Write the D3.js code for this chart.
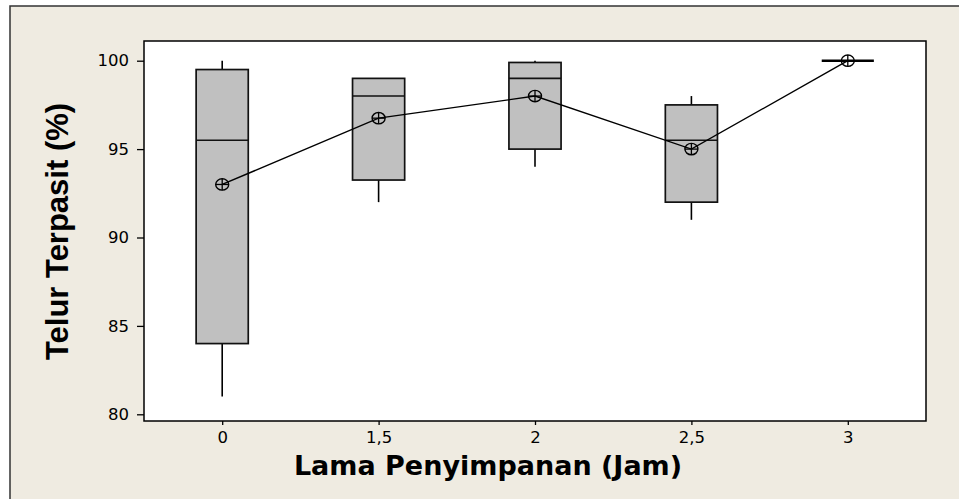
<!DOCTYPE html>
<html>
<head>
<meta charset="utf-8">
<script src="https://cdn.jsdelivr.net/npm/d3@7/dist/d3.min.js"></script>
<style>
  html, body { margin: 0; padding: 0; background: #ffffff; }
  svg { display: block; }
</style>
</head>
<body>
<svg id="chart" width="959" height="499"></svg>
<script>
// Data
const categories  = ["0", "1,5", "2", "2,5", "3"];
const whiskerLow  = [81, 92, 94, 91, 100];
const q1Values    = [84, 93.25, 95, 92, 100];
const medians     = [95.5, 98, 99, 95.5, 100];
const q3Values    = [99.5, 99, 99.9, 97.5, 100];
const whiskerHigh = [100, 99, 100, 98, 100];
const means       = [93, 96.75, 98, 95, 100];
const yTicks      = [80, 85, 90, 95, 100];

const svg = d3.select("#chart");
const W = 959, H = 499;
const frame = { left: 144, right: 926, top: 41, bottom: 421 };

// outer panel
svg.append("rect")
  .attr("x", 10).attr("y", 6).attr("width", W + 20).attr("height", H + 20)
  .attr("fill", "#efebe1").attr("stroke", "#333").attr("stroke-width", 1.5);

// plot area
svg.append("rect")
  .attr("x", frame.left).attr("y", frame.top)
  .attr("width", frame.right - frame.left).attr("height", frame.bottom - frame.top)
  .attr("fill", "#ffffff");

const x = d3.scalePoint().domain(categories)
  .range([frame.left, frame.right]).padding(0.5);
const y = d3.scaleLinear().domain([80, 100]).range([414.3, 60.7]);
const boxW = x.step() / 3;

const rows = categories.map((c, i) => ({
  c, lo: whiskerLow[i], q1: q1Values[i], med: medians[i],
  q3: q3Values[i], hi: whiskerHigh[i], mean: means[i]
}));

const g = svg.append("g");

// whiskers
rows.forEach(d => {
  if (d.lo < d.q1) g.append("line")
    .attr("x1", x(d.c)).attr("x2", x(d.c))
    .attr("y1", y(d.lo)).attr("y2", y(d.q1))
    .attr("stroke", "#000").attr("stroke-width", 1.6);
  if (d.hi > d.q3) g.append("line")
    .attr("x1", x(d.c)).attr("x2", x(d.c))
    .attr("y1", y(d.hi)).attr("y2", y(d.q3))
    .attr("stroke", "#000").attr("stroke-width", 1.6);
});

// boxes
rows.forEach(d => {
  if (d.q3 > d.q1) {
    g.append("rect")
      .attr("x", x(d.c) - boxW / 2).attr("y", y(d.q3))
      .attr("width", boxW).attr("height", y(d.q1) - y(d.q3))
      .attr("fill", "#c0c0c0").attr("stroke", "#111").attr("stroke-width", 1.7);
    g.append("line")
      .attr("x1", x(d.c) - boxW / 2).attr("x2", x(d.c) + boxW / 2)
      .attr("y1", y(d.med)).attr("y2", y(d.med))
      .attr("stroke", "#111").attr("stroke-width", 1.6);
  } else {
    g.append("line")
      .attr("x1", x(d.c) - boxW / 2).attr("x2", x(d.c) + boxW / 2)
      .attr("y1", y(d.med)).attr("y2", y(d.med))
      .attr("stroke", "#000").attr("stroke-width", 2.6);
  }
});

// mean connect line
const line = d3.line().x(d => x(d.c)).y(d => y(d.mean));
g.append("path").datum(rows).attr("d", line)
  .attr("fill", "none").attr("stroke", "#000").attr("stroke-width", 1.4);

// mean symbols
rows.forEach(d => {
  const cx = x(d.c), cy = y(d.mean);
  g.append("ellipse").attr("cx", cx).attr("cy", cy).attr("rx", 6.5).attr("ry", 5.7)
    .attr("fill", "none").attr("stroke", "#000").attr("stroke-width", 1.4);
  g.append("line").attr("x1", cx - 6.5).attr("x2", cx + 6.5).attr("y1", cy).attr("y2", cy)
    .attr("stroke", "#000").attr("stroke-width", 1.3);
  g.append("line").attr("x1", cx).attr("x2", cx).attr("y1", cy - 5.7).attr("y2", cy + 5.7)
    .attr("stroke", "#000").attr("stroke-width", 1.3);
});

// frame
svg.append("rect")
  .attr("x", frame.left).attr("y", frame.top)
  .attr("width", frame.right - frame.left).attr("height", frame.bottom - frame.top)
  .attr("fill", "none").attr("stroke", "#000").attr("stroke-width", 1.5);

// axes
const yAxis = d3.axisLeft(y).tickValues(yTicks).tickSize(7).tickPadding(8).tickFormat(d3.format("d"));
const yg = svg.append("g").attr("transform", `translate(${frame.left},0)`).call(yAxis);
yg.select(".domain").remove();
yg.selectAll(".tick line").attr("stroke", "#000").attr("stroke-width", 1.3);
yg.selectAll(".tick text").attr("font-family", "DejaVu Sans, Verdana, sans-serif")
  .attr("font-size", 16.5).attr("fill", "#000");

const xAxis = d3.axisBottom(x).tickSize(4).tickPadding(6);
const xg = svg.append("g").attr("transform", `translate(0,${frame.bottom})`).call(xAxis);
xg.select(".domain").remove();
xg.selectAll(".tick line").attr("stroke", "#000").attr("stroke-width", 1.3);
xg.selectAll(".tick text").attr("font-family", "DejaVu Sans, Verdana, sans-serif")
  .attr("font-size", 16.5).attr("fill", "#000");

// titles
svg.append("text")
  .attr("x", 488).attr("y", 475)
  .attr("text-anchor", "middle")
  .attr("font-family", "DejaVu Sans, Verdana, sans-serif")
  .attr("font-weight", "bold").attr("font-size", 27)
  .attr("fill", "#000")
  .text("Lama Penyimpanan (Jam)");

svg.append("text")
  .attr("transform", "translate(68,231.5) rotate(-90)")
  .attr("text-anchor", "middle")
  .attr("font-family", "Liberation Sans, Arial, sans-serif")
  .attr("font-weight", "bold").attr("font-size", 31)
  .attr("fill", "#000")
  .text("Telur Terpasit (%)");
</script>
</body>
</html>
